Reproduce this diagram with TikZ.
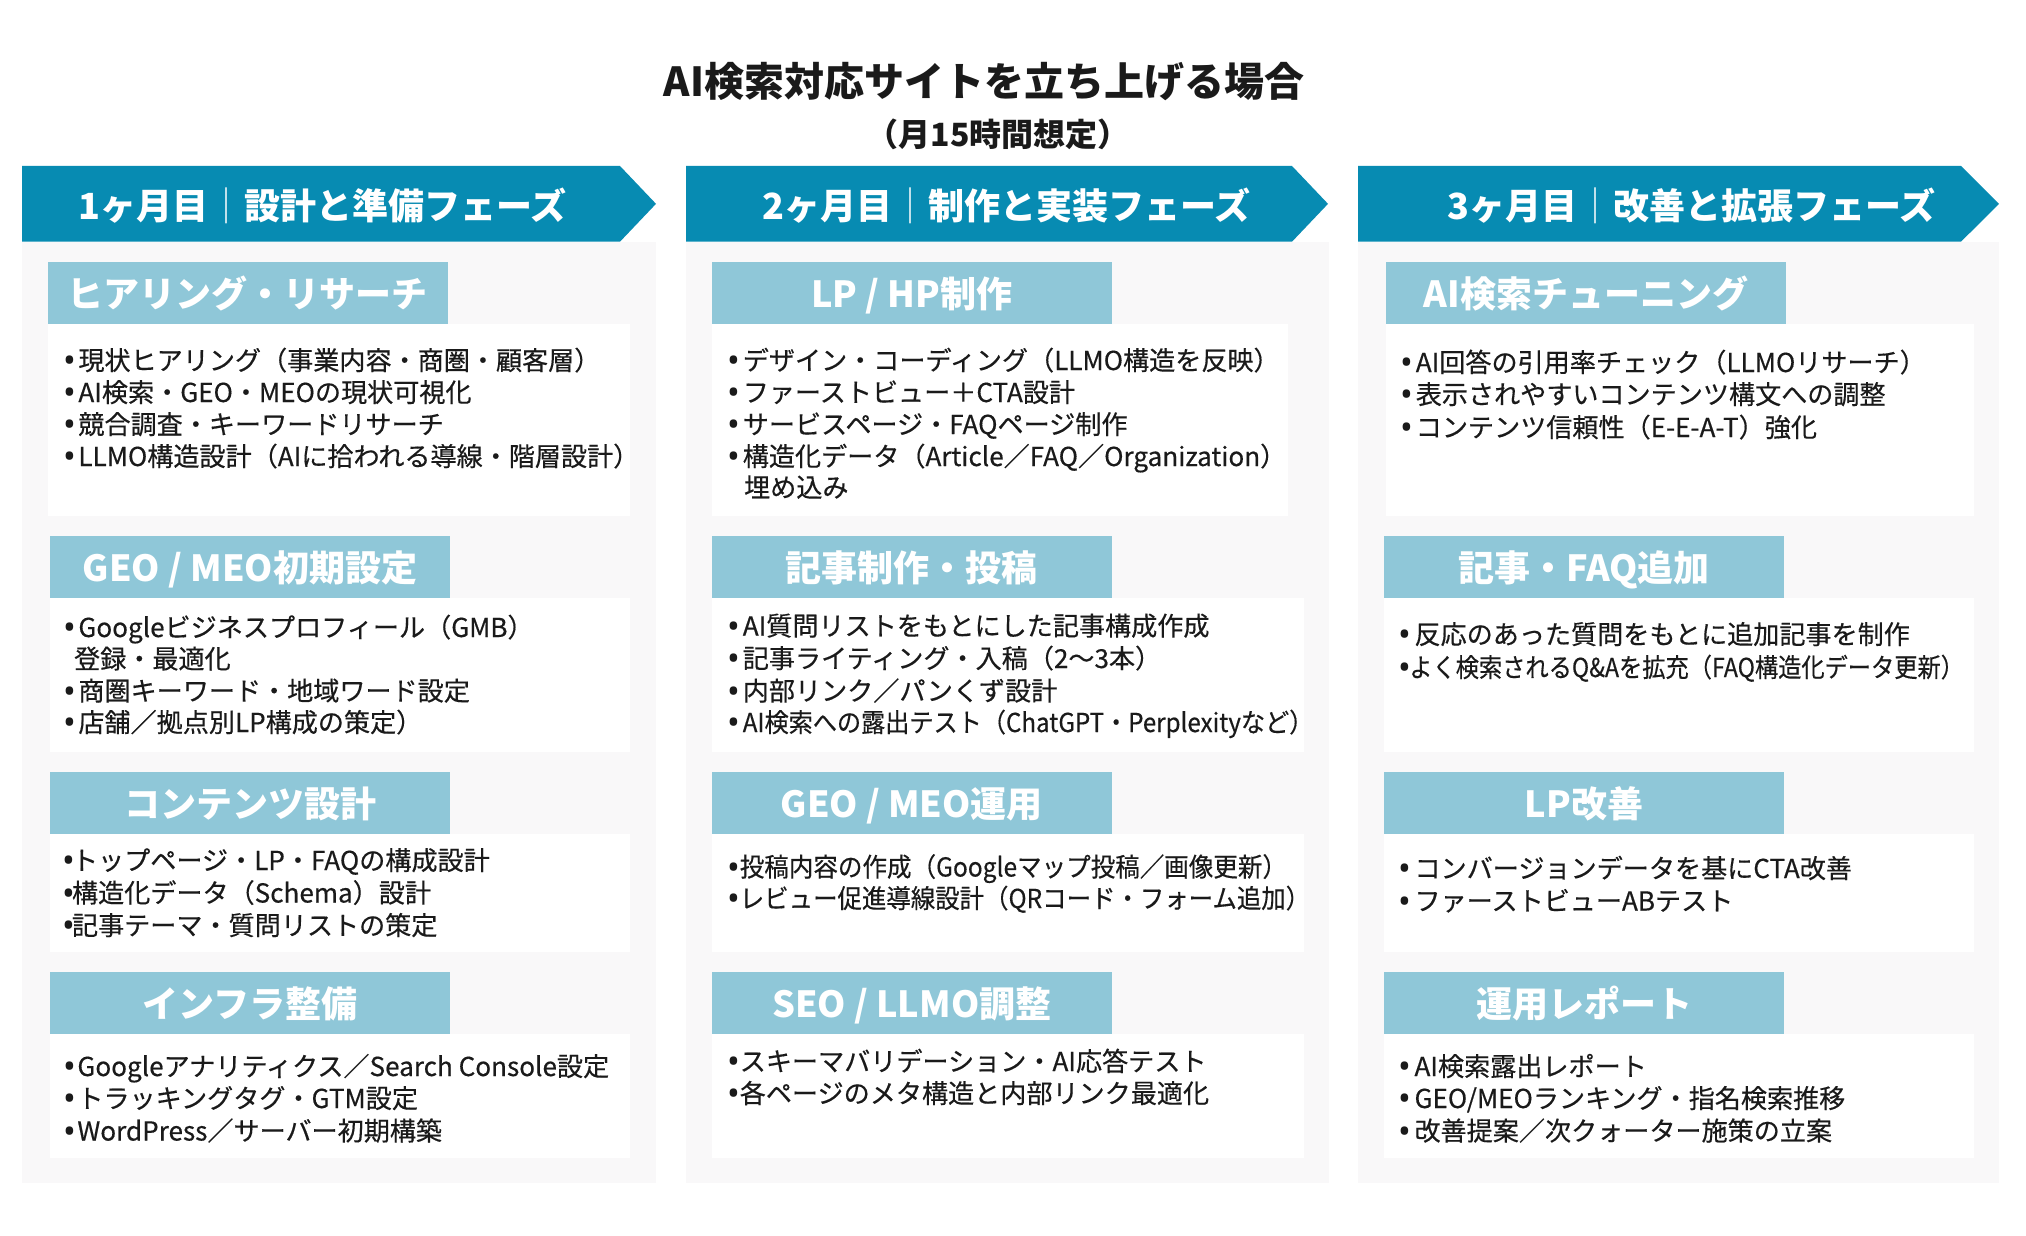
\documentclass[tikz,border=0pt]{standalone}
\usepackage{fontspec}
\usepackage{graphicx}
\setmainfont{Noto Sans CJK JP}
\newfontfamily\bodyfont{Noto Sans CJK JP}[FakeBold=0.4]
\newfontfamily\bulfont{Noto Sans}
\definecolor{band}{HTML}{078BB2}
\definecolor{hdr}{HTML}{8FC7D8}
\definecolor{colbg}{HTML}{F9F8F9}
\definecolor{ink}{HTML}{1A1A1A}
\newlength\upx \setlength\upx{0.5pt}
\tikzset{
  bodytxt/.style={inner sep=0pt, text=ink, text height=0.84em, text depth=0.12em, font=\bodyfont\fontsize{13.05pt}{16pt}\selectfont},
  hdrtxt/.style={inner sep=0pt, text=white, anchor=base, font=\fontsize{18pt}{20pt}\selectfont\bfseries},
  bandtxt/.style={inner sep=0pt, text=white, font=\fontsize{18pt}{20pt}\selectfont\bfseries, anchor=base west},
  bodybox/.style={fill=white},
  hdrbox/.style={fill=hdr},
}
\newcommand\bu{\raisebox{-1.3pt}{\bulfont\fontsize{17pt}{17pt}\selectfont •}}
\newcommand\bl[5]{\node[bodytxt,anchor=base west] (#1) at (#2,#3) {\makebox[#4\upx][l]{\bu}#5};}
\newcommand\cl[4]{\node[bodytxt,anchor=base west] (#1) at (#2,#3) {#4};}
\newcommand\hdr[6]{\fill[hdrbox] (#2,#3) rectangle (#4,#5);
  \node[hdrtxt] (#1) at ({(#2+#4)/2},{(#3+#5)/2+15}) {#6};}
\begin{document}
\begin{tikzpicture}[x=0.5pt,y=-0.5pt]
\useasboundingbox (0,0) rectangle (2026,1236);
\fill[white] (0,0) rectangle (2026,1236);
% title
\node[inner sep=0pt, text=ink, anchor=base, font=\fontsize{20pt}{24pt}\selectfont\bfseries] (title) at (984,97) {AI検索対応サイトを立ち上げる場合};
\node[inner sep=0pt, text=ink, anchor=base, font=\fontsize{16pt}{20pt}\selectfont\bfseries] (subtitle) at (998,147) {（月15時間想定）};
% column backgrounds
\fill[colbg] (22,241.7) rectangle (656,1183.3);
\fill[colbg] (686,241.7) rectangle (1329,1183.3);
\fill[colbg] (1358,241.7) rectangle (1999,1183.3);
% phase bands
\fill[band] (22,166) -- (620,166) -- (656,203.85) -- (620,241.7) -- (22,241.7) -- cycle;
\fill[band] (686,166) -- (1292,166) -- (1328,203.85) -- (1292,241.7) -- (686,241.7) -- cycle;
\fill[band] (1358,166) -- (1961,166) -- (1999,203.85) -- (1961,241.7) -- (1358,241.7) -- cycle;
\node[bandtxt] (p1) at (78,219.5) {1ヶ月目{\mdseries ｜}設計と準備フェーズ};
\node[bandtxt] (p2) at (762,219.5) {2ヶ月目{\mdseries ｜}制作と実装フェーズ};
\node[bandtxt] (p3) at (1447,219.5) {3ヶ月目{\mdseries ｜}改善と拡張フェーズ};
% ---------- column 1
\hdr{h11}{48.2}{262}{447.8}{323.7}{ヒアリング・リサーチ}
\fill[bodybox] (48.2,323.7) rectangle (629.5,515.5);
\hdr{h12}{50}{535.8}{450}{598.1}{GEO / MEO初期設定}
\fill[bodybox] (50,598.1) rectangle (629.5,752);
\hdr{h13}{50}{772}{450}{833.7}{コンテンツ設計}
\fill[bodybox] (50,833.7) rectangle (629.7,951.7);
\hdr{h14}{50}{972}{450}{1033.7}{インフラ整備}
\fill[bodybox] (50,1033.7) rectangle (629.7,1157.7);
\bl{a11}{62.6}{370}{15.4}{現状ヒアリング（事業内容・商圏・顧客層）}
\bl{a12}{62.6}{402}{15.4}{AI検索・GEO・MEOの現状可視化}
\bl{a13}{62.6}{434}{15.4}{競合調査・キーワードリサーチ}
\bl{a14}{62.6}{466}{15.4}{LLMO構造設計（AIに拾われる導線・階層設計）}
\bl{a21}{62.6}{637}{15.4}{Googleビジネスプロフィール（GMB）}
\cl{a22}{73.7}{668.5}{登録・最適化}
\bl{a23}{62.6}{700.5}{15.4}{商圏キーワード・地域ワード設定}
\bl{a24}{62.6}{732}{15.4}{店舗／拠点別LP構成の策定）}
\bl{a31}{61.6}{870}{10}{トップページ・LP・FAQの構成設計}
\bl{a32}{61.6}{902.5}{10}{構造化データ（Schema）設計}
\bl{a33}{61.6}{935}{10}{記事テーマ・質問リストの策定}
\bl{a41}{62.6}{1076}{14.4}{Googleアナリティクス／Search Console設定}
\bl{a42}{62.6}{1108}{14.4}{トラッキングタグ・GTM設定}
\bl{a43}{62.6}{1140.5}{14.4}{WordPress／サーバー初期構築}
% ---------- column 2
\hdr{h21}{712}{262}{1111.5}{323.7}{LP / HP制作}
\fill[bodybox] (712,323.7) rectangle (1288,515.5);
\hdr{h22}{712}{535.8}{1111.5}{598.1}{記事制作・投稿}
\fill[bodybox] (712,598.1) rectangle (1303.6,752);
\hdr{h23}{712}{772}{1111.5}{833.7}{GEO / MEO運用}
\fill[bodybox] (712,833.7) rectangle (1303.6,951.7);
\hdr{h24}{712}{972}{1111.5}{1033.7}{SEO / LLMO調整}
\fill[bodybox] (712,1033.7) rectangle (1303.6,1157.7);
\bl{b11}{727.3}{370}{15.1}{デザイン・コーディング（LLMO構造を反映）}
\bl{b12}{727.3}{402}{15.1}{ファーストビュー＋CTA設計}
\bl{b13}{727.3}{434}{15.1}{サービスページ・FAQページ制作}
\bl{b14}{727.3}{466}{15.1}{構造化データ（Article／FAQ／Organization）}
\cl{b15}{743.7}{497}{埋め込み}
\bl{b21}{727.3}{635.5}{15.1}{AI質問リストをもとにした記事構成作成}
\bl{b22}{727.3}{668}{15.1}{記事ライティング・入稿（2〜3本）}
\bl{b23}{727.3}{700.5}{15.1}{内部リンク／パンくず設計}
\bl{b24}{727.3}{732}{15.1}{\scalebox{0.925}[1]{AI検索への露出テスト（ChatGPT・Perplexityなど）}}
\bl{b31}{727.3}{876.5}{12.1}{\scalebox{0.94}[1]{投稿内容の作成（Googleマップ投稿／画像更新）}}
\bl{b32}{727.3}{908}{12.1}{\scalebox{0.936}[1]{レビュー促進導線設計（QRコード・フォーム追加）}}
\bl{b41}{727.3}{1071}{12.1}{スキーマバリデーション・AI応答テスト}
\bl{b42}{727.3}{1103}{12.1}{各ページのメタ構造と内部リンク最適化}
% ---------- column 3
\hdr{h31}{1386}{262}{1786}{323.7}{AI検索チューニング}
\fill[bodybox] (1386,323.7) rectangle (1973.5,515.5);
\hdr{h32}{1384}{535.8}{1784}{598.1}{記事・FAQ追加}
\fill[bodybox] (1384,598.1) rectangle (1973.5,752);
\hdr{h33}{1384}{772}{1784}{833.7}{LP改善}
\fill[bodybox] (1384,833.7) rectangle (1973.5,951.7);
\hdr{h34}{1384}{972}{1784}{1033.7}{運用レポート}
\fill[bodybox] (1384,1033.7) rectangle (1973.5,1157.7);
\bl{c11}{1400.3}{372}{15.1}{AI回答の引用率チェック（LLMOリサーチ）}
\bl{c12}{1400.3}{404}{15.1}{表示されやすいコンテンツ構文への調整}
\bl{c13}{1400.3}{437}{15.1}{コンテンツ信頼性（E-E-A-T）強化}
\bl{c21}{1398.1}{644}{16}{反応のあった質問をもとに追加記事を制作}
\bl{c22}{1398.1}{677}{10.8}{\scalebox{0.89}[1]{よく検索されるQ\&Aを拡充（FAQ構造化データ更新）}}
\bl{c31}{1398.1}{878}{16}{コンバージョンデータを基にCTA改善}
\bl{c32}{1398.1}{910.5}{16}{ファーストビューABテスト}
\bl{c41}{1398.1}{1076}{16}{AI検索露出レポート}
\bl{c42}{1398.1}{1108}{16}{GEO/MEOランキング・指名検索推移}
\bl{c43}{1398.1}{1140.5}{16}{改善提案／次クォーター施策の立案}
\end{tikzpicture}
\end{document}
